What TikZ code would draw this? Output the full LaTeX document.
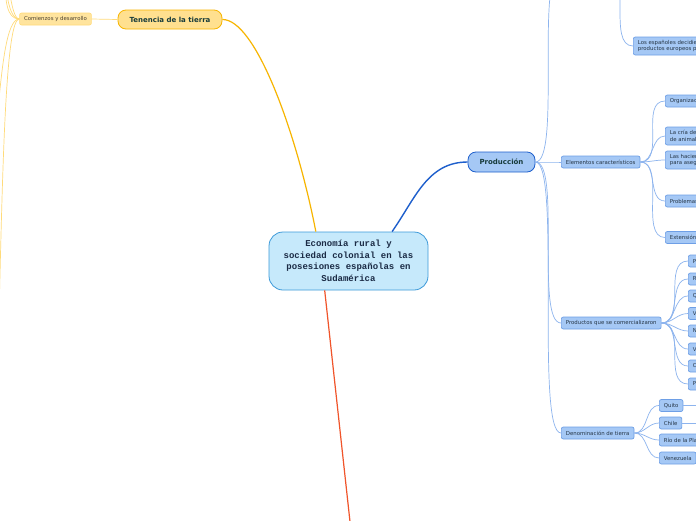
\documentclass[tikz,border=0pt]{standalone}
\usepackage{fontspec}
\setmainfont{DejaVu Sans}
\newfontfamily\monofont{Liberation Mono}
\usepackage{xcolor}
\definecolor{rootfill}{HTML}{C6E9FB}
\definecolor{rootline}{HTML}{3D9AD9}
\definecolor{roottext}{HTML}{1B2B45}
\definecolor{goldline}{HTML}{F7B500}
\definecolor{goldfill}{HTML}{FFE08F}
\definecolor{paleline}{HTML}{FFDB7A}
\definecolor{palefill}{HTML}{FFE49E}
\definecolor{paletext}{HTML}{4A4030}
\definecolor{bluedark}{HTML}{1E5FCC}
\definecolor{bluefill}{HTML}{A5C8F5}
\definecolor{blueline}{HTML}{6E9FE6}
\definecolor{bluelink}{HTML}{8DB4EE}
\definecolor{redline}{HTML}{F0542A}
\definecolor{darkteal}{HTML}{173B3B}
\definecolor{leaftext}{HTML}{263646}

\tikzset{
  rootbox/.style={draw=rootline, fill=rootfill, line width=0.8pt, rounded corners=14pt,
    minimum width=159pt, minimum height=58pt, inner sep=0pt, align=center,
    font=\monofont\bfseries\fontsize{9}{11.5}\selectfont, text=roottext},
  goldbox/.style={draw=goldline, fill=goldfill, line width=0.8pt, rounded corners=8pt,
    minimum width=104pt, minimum height=19pt, inner sep=0pt,
    font=\bfseries\fontsize{7}{8}\selectfont, text=darkteal},
  mainbox/.style={draw=bluedark, fill=bluefill, line width=0.8pt, rounded corners=8pt,
    minimum width=67pt, minimum height=20pt, inner sep=0pt,
    font=\bfseries\fontsize{7}{8}\selectfont, text=darkteal},
  palebox/.style={draw=paleline, fill=palefill, line width=0.6pt, rounded corners=2pt,
    inner xsep=4.5pt, inner ysep=0pt, minimum height=12pt,
    font=\fontsize{5.4}{6.6}\selectfont, text=paletext},
  leaf/.style={draw=blueline, fill=bluefill, line width=0.7pt, rounded corners=2pt,
    anchor=west, inner xsep=4.5pt, inner ysep=0pt, minimum height=12pt,
    font=\fontsize{5.4}{6.6}\selectfont, text=leaftext, align=left},
  sublink/.style={draw=bluelink, line width=0.7pt, out=0, in=180, max distance=26pt},
  palelink/.style={draw=paleline, line width=0.7pt, out=180, in=0, max distance=26pt},
}

\begin{document}
\begin{tikzpicture}[x=1pt,y=1pt]
    \fill[white] (0,0) rectangle (696,-520);
    \clip (0,0) rectangle (696,-520);

    % main topics
    \node[rootbox] (root) at (348.5,-261) {Economía rural y\\sociedad colonial en las\\posesiones españolas en\\Sudamérica};
    \node[goldbox] (tenencia) at (170,-19.5) {Tenencia de la tierra};
    \node[palebox] (comienzos) at (55.5,-19) {Comienzos y desarrollo};
    \node[mainbox] (produccion) at (501.5,-162) {Producción};

    \node[leaf] (elementos) at (561,-162) {Elementos característicos};
    \node[leaf] (productos) at (561,-323) {Productos que se comercializaron};
    \node[leaf] (denominacion) at (561,-433) {Denominación de tierra};
    \node[leaf, minimum height=18pt] (espanoles) at (633,-46) {Los españoles decidieron\\productos europeos para};

    \node[leaf] (organizacion) at (665,-101) {Organización del trabajo};
    \node[leaf, minimum height=18pt] (cria) at (665,-136) {La cría de ganado y\\de animales};
    \node[leaf, minimum height=18pt] (haciendas) at (665,-160) {Las haciendas\\para asegurar};
    \node[leaf] (problemas) at (665,-201) {Problemas};
    \node[leaf] (extension) at (665,-237.5) {Extensión};

    \node[leaf] (p1) at (688,-261) {Plata};
    \node[leaf] (p2) at (688,-279) {Reses};
    \node[leaf] (p3) at (688,-296) {Quina};
    \node[leaf] (p4) at (688,-313.5) {Vino};
    \node[leaf] (p5) at (688,-331) {Nueces};
    \node[leaf] (p6) at (688,-349) {Vainilla};
    \node[leaf] (p7) at (688,-366) {Cacao};
    \node[leaf] (p8) at (688,-384) {Papas};

    \node[leaf] (quito) at (659,-405.5) {Quito};
    \node[leaf] (chile) at (659,-423) {Chile};
    \node[leaf] (rio) at (659,-440) {Río de la Plata};
    \node[leaf] (venezuela) at (659,-458) {Venezuela};

    % branches leaving the picture
    \coordinate (arriba) at (561,30);
    \coordinate (arribaE) at (607,30);
    \coordinate (sur) at (352,-540);
    \coordinate (quitoE) at (720,-405.5);
    \coordinate (chileE) at (720,-423);
    \coordinate (izq1) at (-10,60);
    \coordinate (izq2) at (-15,150);
    \coordinate (izq3) at (-20,400);
    \coordinate (izq4) at (-25,-220);
    \coordinate (izq5) at (-20,-560);

    \draw[goldline, line width=1.2pt] (root.138) .. controls (296,-130) and (255,-19) .. (tenencia.east);
    \draw[bluedark, line width=1.4pt] (root.34) to[out=55,in=180] (produccion.west);
    \draw[redline, line width=1.2pt] (root.231) -- (sur);
    \draw[palelink] (tenencia.west) -- (comienzos.east);
    \foreach \n in {izq1,izq2,izq3,izq4,izq5}
        \draw[palelink] (comienzos.west) to (\n);

    \foreach \n in {arriba,elementos,productos,denominacion}
        \draw[sublink] (produccion.east) to (\n);
    \draw[sublink] (arribaE) to (espanoles.west);
    \foreach \n in {organizacion,cria,haciendas,problemas,extension}
        \draw[sublink] (elementos.east) to (\n.west);
    \foreach \n in {p1,p2,p3,p4,p5,p6,p7,p8}
        \draw[sublink] (productos.east) to (\n.west);
    \foreach \n in {quito,chile,rio,venezuela}
        \draw[sublink] (denominacion.east) to (\n.west);
    \draw[sublink] (quito.east) -- (quitoE);
    \draw[sublink] (chile.east) -- (chileE);
\end{tikzpicture}
\end{document}
